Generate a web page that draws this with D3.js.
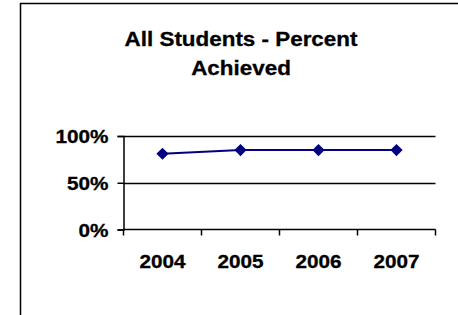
<!DOCTYPE html>
<html>
<head>
<meta charset="utf-8">
<script src="https://cdn.jsdelivr.net/npm/d3@7"></script>
<style>
  body { margin: 0; background: #fff; }
  svg text { font-family: "Liberation Sans", Arial, sans-serif; font-weight: bold; fill: #000; }
</style>
</head>
<body>
<svg id="chart" width="458" height="315"></svg>
<script>
// data
var years = ["2004", "2005", "2006", "2007"];
var percentAchieved = [81, 85, 85, 85];
var yTicks = [0, 50, 100];
var titleLines = ["All Students - Percent", "Achieved"];

var svg = d3.select("#chart");
var stretch = 1.15; // text in the original is a bit wide

// outer chart border (runs off the right and bottom edges)
svg.append("rect")
    .attr("x", 20.5).attr("y", 3.5)
    .attr("width", 480).attr("height", 340)
    .attr("fill", "none").attr("stroke", "#000").attr("stroke-width", 1.5);

var plot = { left: 123.5, right: 435.5, top: 136, bottom: 229.5 };

var x = d3.scaleBand().domain(years).range([plot.left, plot.right]);
var y = d3.scaleLinear().domain([0, 100]).range([plot.bottom, plot.top]);

// title
svg.selectAll(".title").data(titleLines).enter()
    .append("text")
    .attr("class", "title")
    .attr("text-anchor", "middle")
    .attr("font-size", 19.5)
    .attr("stroke", "#000").attr("stroke-width", 0.3)
    .attr("transform", function (d, i) {
        return "translate(241," + (46 + i * 29) + ") scale(" + stretch + ",1)";
    })
    .text(function (d) { return d; });

// horizontal gridlines
svg.selectAll(".grid").data(yTicks.filter(function (d) { return d > 0; })).enter()
    .append("line")
    .attr("x1", plot.left).attr("x2", plot.right)
    .attr("y1", function (d) { return Math.round(y(d)) + 0.5; })
    .attr("y2", function (d) { return Math.round(y(d)) + 0.5; })
    .attr("stroke", "#000").attr("stroke-width", 1.5);

// y axis
var yAxis = svg.append("g")
    .attr("transform", "translate(" + plot.left + ",0)")
    .call(d3.axisLeft(y).tickValues(yTicks).tickSize(6)
        .tickFormat(function (d) { return d + "%"; }));
yAxis.select(".domain").attr("stroke", "#000").attr("stroke-width", 1.5);
yAxis.selectAll(".tick line").attr("stroke", "#000").attr("stroke-width", 1.5);
yAxis.selectAll(".tick text")
    .attr("font-size", 18)
    .attr("stroke", "#000").attr("stroke-width", 0.3)
    .attr("x", null).attr("dy", null)
    .attr("text-anchor", "end")
    .attr("transform", "translate(-15,6.5) scale(" + stretch + ",1)");

// x axis: ticks on band edges, labels centred
var xAxisG = svg.append("g").attr("transform", "translate(0," + plot.bottom + ")");
xAxisG.append("line")
    .attr("x1", plot.left).attr("x2", plot.right)
    .attr("stroke", "#000").attr("stroke-width", 1.5);
var edges = years.map(function (d) { return x(d); }).concat([plot.right]);
xAxisG.selectAll(".xtick").data(edges).enter()
    .append("line")
    .attr("x1", function (d) { return d; }).attr("x2", function (d) { return d; })
    .attr("y1", 0).attr("y2", 6)
    .attr("stroke", "#000").attr("stroke-width", 1.5);
xAxisG.selectAll(".xlabel").data(years).enter()
    .append("text")
    .attr("text-anchor", "middle")
    .attr("font-size", 18)
    .attr("stroke", "#000").attr("stroke-width", 0.3)
    .attr("transform", function (d) {
        return "translate(" + (x(d) + x.bandwidth() / 2) + ",38) scale(" + stretch + ",1)";
    })
    .text(function (d) { return d; });

// series line + diamond markers
var line = d3.line()
    .x(function (d, i) { return x(years[i]) + x.bandwidth() / 2; })
    .y(function (d) { return y(d); });

svg.append("path")
    .datum(percentAchieved)
    .attr("d", line)
    .attr("fill", "none").attr("stroke", "#000080").attr("stroke-width", 2);

svg.selectAll(".marker").data(percentAchieved).enter()
    .append("path")
    .attr("d", d3.symbol().type(d3.symbolDiamond2).size(95))
    .attr("transform", function (d, i) {
        return "translate(" + (x(years[i]) + x.bandwidth() / 2) + "," + y(d) + ")";
    })
    .attr("fill", "#000080");
</script>
</body>
</html>
